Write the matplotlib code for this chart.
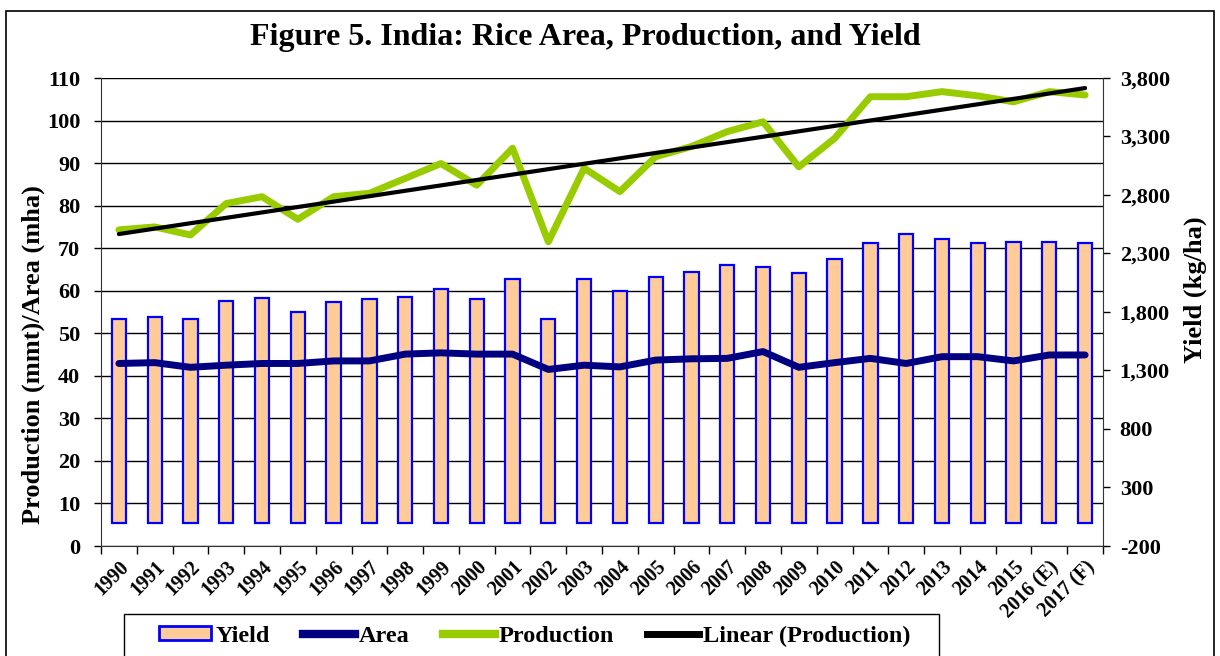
import numpy as np
import matplotlib
matplotlib.use("Agg")
import matplotlib.pyplot as plt
from matplotlib.patches import Rectangle, Patch
from matplotlib.lines import Line2D

years = ["1990", "1991", "1992", "1993", "1994", "1995", "1996", "1997", "1998", "1999",
         "2000", "2001", "2002", "2003", "2004", "2005", "2006", "2007", "2008", "2009",
         "2010", "2011", "2012", "2013", "2014", "2015", "2016 (E)", "2017 (F)"]
yield_kgha = [1740, 1755, 1740, 1897, 1920, 1797, 1885, 1908, 1931, 1997,
              1908, 2082, 1740, 2082, 1982, 2102, 2139, 2204, 2182, 2131,
              2250, 2393, 2470, 2421, 2393, 2401, 2401, 2393]
area_mha = [42.9, 43.1, 42.0, 42.5, 42.9, 42.9, 43.5, 43.5, 45.1, 45.4,
            45.1, 45.1, 41.5, 42.5, 42.1, 43.7, 44.0, 44.1, 45.7, 42.0,
            43.1, 44.1, 42.9, 44.5, 44.5, 43.5, 44.9, 44.9]
production_mmt = [74.3, 75.0, 73.1, 80.5, 82.1, 76.8, 82.1, 82.9, 86.4, 89.9,
                  84.8, 93.5, 71.5, 88.8, 83.3, 91.5, 93.9, 97.4, 99.7, 89.1,
                  95.8, 105.6, 105.6, 106.8, 105.8, 104.4, 106.8, 106.0]

left_ticks = list(range(0, 111, 10))
right_ticks = list(range(-200, 3801, 500))

serif = ["Liberation Serif", "DejaVu Serif"]
plt.rcParams["font.family"] = serif
plt.rcParams["font.weight"] = "bold"

W, H = 1220, 656
fig = plt.figure(figsize=(W / 100, H / 100), dpi=100)

# figure border
fig.patches.append(Rectangle((6 / W, -0.05), (1214 - 6) / W, 1 - 11 / H + 0.05,
                             transform=fig.transFigure, fill=False,
                             edgecolor="black", linewidth=1.2))

pos = [101 / W, 1 - 546 / H, (1103 - 101) / W, (546 - 78) / H]
ax = fig.add_axes(pos)
x = np.arange(len(years))

ax.set_xlim(-0.5, len(years) - 0.5)
ax.set_ylim(0, 110)
ax.set_yticks(left_ticks)
ax.yaxis.grid(True, color="black", linewidth=1.0)
ax.set_axisbelow(True)
for s in ["top", "right"]:
    ax.spines[s].set_visible(False)
ax.spines["left"].set_color("#333333")
ax.spines["bottom"].set_color("#333333")
ax.tick_params(axis="y", direction="out", length=5, width=1, labelsize=16, pad=10)
ax.set_xticks(x)
ax.set_xticklabels(years, rotation=45, ha="right", rotation_mode="anchor",
                   fontsize=14.5, fontweight="bold")
ax.tick_params(axis="x", which="major", length=0, pad=8)
ax.set_xticks(np.arange(-0.5, len(years)), minor=True)
ax.tick_params(axis="x", which="minor", direction="out", length=6, width=1)
for lab in ax.get_yticklabels():
    lab.set_fontweight("bold")

# yield bars on right axis
ax2 = ax.twinx()
ax2.set_ylim(-200, 3800)
ax2.set_yticks(right_ticks)
ax2.set_yticklabels([f"{t:,}" for t in right_ticks], fontweight="bold")
ax2.tick_params(axis="y", direction="out", length=5, width=1, labelsize=16, pad=7)
for s in ["top", "left", "bottom"]:
    ax2.spines[s].set_visible(False)
ax2.spines["right"].set_color("#333333")
ax2.bar(x, yield_kgha, width=0.4, bottom=0, color="#FFCC99", edgecolor="#0000FF",
        linewidth=1.6, zorder=2)
ax2.patch.set_visible(False)

# lines on top
ax3 = fig.add_axes(pos, sharex=ax, sharey=ax)
ax3.set_axis_off()
ax3.patch.set_visible(False)
ax3.plot(x, area_mha, color="#000080", linewidth=5, solid_capstyle="round", solid_joinstyle="round")
ax3.plot(x, production_mmt, color="#99CC00", linewidth=5, solid_capstyle="round", solid_joinstyle="round")
coef = np.polyfit(x, production_mmt, 1)
ax3.plot(x, np.polyval(coef, x), color="black", linewidth=3, solid_capstyle="round")

ax.set_zorder(0)
ax2.set_zorder(1)
ax3.set_zorder(2)

fig.text(585 / W, 1 - 38 / H, "Figure 5. India: Rice Area, Production, and Yield",
         ha="center", va="center", fontsize=23, fontweight="bold")
fig.text(33 / W, 1 - 355 / H, "Production (mmt)/Area (mha)", rotation=90,
         ha="center", va="center", fontsize=19, fontweight="bold")
fig.text(1195 / W, 1 - 290 / H, "Yield (kg/ha)", rotation=90,
         ha="center", va="center", fontsize=19, fontweight="bold")

# legend
fig.patches.append(Rectangle((124 / W, -0.05), (939 - 124) / W, 1 - 614 / H + 0.05,
                             transform=fig.transFigure, fill=False,
                             edgecolor="black", linewidth=1.0))
handles = [Patch(facecolor="#FFCC99", edgecolor="#0000FF", linewidth=2.0),
           Line2D([], [], color="#000080", linewidth=6),
           Line2D([], [], color="#99CC00", linewidth=6),
           Line2D([], [], color="black", linewidth=5)]
labels = ["Yield", "Area", "Production", "Linear (Production)"]
leg = fig.legend(handles, labels, loc="center left", bbox_to_anchor=(159 / W, 1 - 636 / H),
                 ncol=4, frameon=False,
                 prop={"family": serif, "weight": "bold", "size": 17.5},
                 handlelength=2.15, handleheight=0.55, columnspacing=1.36, handletextpad=0.16,
                 borderpad=0, borderaxespad=0)

fig.savefig("out.png", dpi=100)
